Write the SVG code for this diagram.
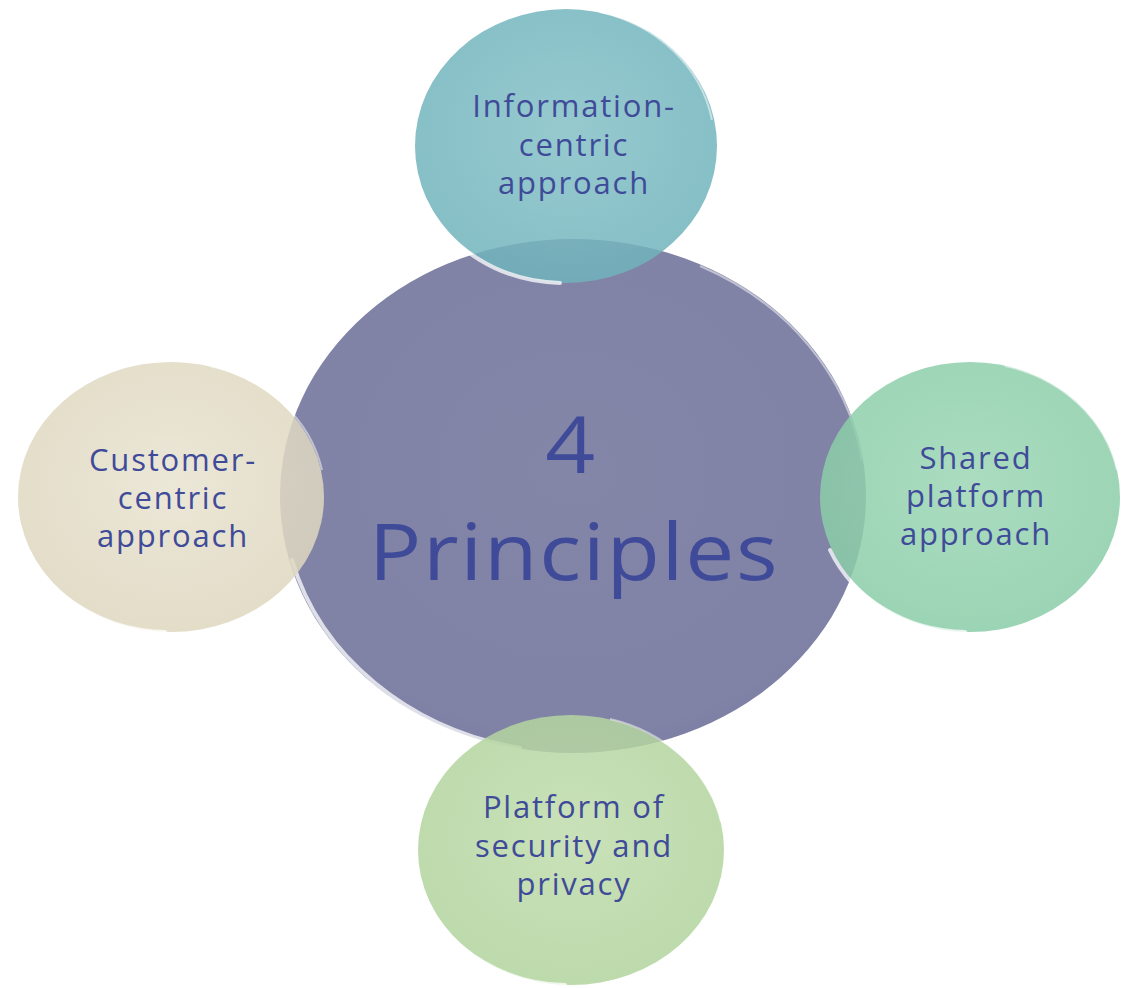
<svg xmlns="http://www.w3.org/2000/svg" width="1124" height="988" viewBox="0 0 1124 988">
<style>
.lbl{font-family:"Open Sans","Liberation Sans",sans-serif;fill:#3f4b99;text-anchor:middle}
.sm{font-size:31px;letter-spacing:1.8px}
.big{font-size:78px;letter-spacing:1.5px}
.rim{fill:none;stroke:#ffffff;stroke-width:4;stroke-linecap:round;opacity:0.75}
.edge{fill:none;stroke:#ffffff;stroke-width:2;opacity:0.5}
</style>
<defs>
<radialGradient id="gC" cx="50%" cy="45%" r="60%"><stop offset="0" stop-color="#8486a8"/><stop offset="0.85" stop-color="#8082a6"/><stop offset="1" stop-color="#7a7ca2"/></radialGradient>
<radialGradient id="gT" cx="50%" cy="45%" r="60%"><stop offset="0" stop-color="#83c0c6"/><stop offset="1" stop-color="#6fb2bb"/></radialGradient>
<radialGradient id="gL" cx="50%" cy="45%" r="60%"><stop offset="0" stop-color="#e8e3d0"/><stop offset="1" stop-color="#ddd6bd"/></radialGradient>
<radialGradient id="gR" cx="50%" cy="45%" r="60%"><stop offset="0" stop-color="#9cd6b5"/><stop offset="1" stop-color="#88cca6"/></radialGradient>
<radialGradient id="gB" cx="50%" cy="45%" r="60%"><stop offset="0" stop-color="#c0dcac"/><stop offset="1" stop-color="#b0d39c"/></radialGradient>
</defs>
<g id="center">
<ellipse cx="573" cy="496" rx="293" ry="257" fill="url(#gC)"/>
<path class="rim" d="M 292 560 A 293 257 0 0 0 520 748"/>
<path class="edge" d="M 700 266 A 293 257 0 0 1 862 460"/>
<text class="lbl big" transform="translate(571,473) scale(1.12,1)">4</text>
<text class="lbl big" transform="translate(574,580) scale(1.12,1)">Principles</text>
</g>
<g id="top">
<ellipse cx="566" cy="146" rx="151" ry="137" fill="url(#gT)" opacity="0.85"/>
<path class="rim" d="M 425 200 A 151 137 0 0 0 560 283"/>
<path class="edge" d="M 600 12 A 151 137 0 0 1 712 120"/>
<text class="lbl sm" x="574" y="117">Information-</text>
<text class="lbl sm" x="574" y="156">centric</text>
<text class="lbl sm" x="574" y="194">approach</text>
</g>
<g id="left">
<ellipse cx="171" cy="497" rx="153" ry="135" fill="url(#gL)" opacity="0.85"/>
<path class="rim" d="M 28 550 A 153 135 0 0 0 165 632"/>
<path class="edge" d="M 210 366 A 153 135 0 0 1 322 470"/>
<text class="lbl sm" x="173" y="471">Customer-</text>
<text class="lbl sm" x="173" y="509">centric</text>
<text class="lbl sm" x="173" y="547">approach</text>
</g>
<g id="right">
<ellipse cx="970" cy="497" rx="150" ry="135" fill="url(#gR)" opacity="0.85"/>
<path class="rim" d="M 830 550 A 150 135 0 0 0 965 632"/>
<path class="edge" d="M 1005 366 A 150 135 0 0 1 1117 470"/>
<text class="lbl sm" x="976" y="469">Shared</text>
<text class="lbl sm" x="976" y="507">platform</text>
<text class="lbl sm" x="976" y="545">approach</text>
</g>
<g id="bottom">
<ellipse cx="571" cy="850" rx="153" ry="135" fill="url(#gB)" opacity="0.85"/>
<path class="rim" d="M 428 903 A 153 135 0 0 0 565 985"/>
<path class="edge" d="M 610 719 A 153 135 0 0 1 721 822"/>
<text class="lbl sm" x="574" y="818">Platform of</text>
<text class="lbl sm" x="574" y="857">security and</text>
<text class="lbl sm" x="574" y="895">privacy</text>
</g>
<g id="connectors"></g>
</svg>
